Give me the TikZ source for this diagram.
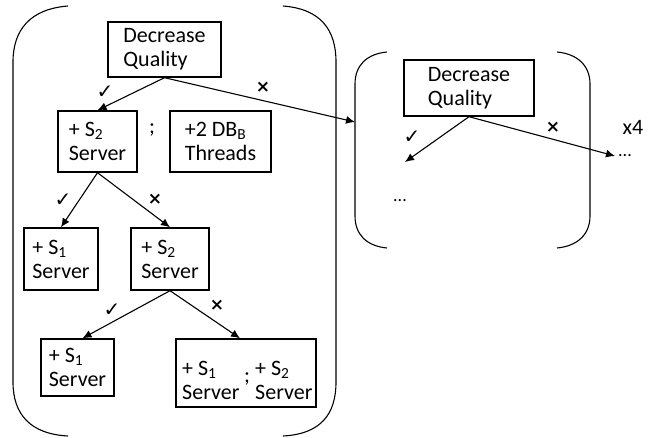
\documentclass[tikz,border=0pt]{standalone}
\usepackage{fontspec}
\setmainfont{Carlito}
\newfontfamily\symfont{DejaVu Sans}
\usetikzlibrary{arrows.meta,calc}
\tikzset{
  box/.style={draw, line width=1.4pt, align=left, inner sep=2pt,
              font=\fontsize{22}{24}\selectfont},
  txt/.style={inner sep=0pt, font=\fontsize{22}{24}\selectfont},
  small/.style={inner sep=0pt, font=\fontsize{18}{20}\selectfont},
  conn/.style={line width=1.1pt, -{Latex[length=9pt,width=8pt]}},
  paren/.style={line width=1.1pt},
  yes/.style={inner sep=0pt, font=\symfont\fontsize{20}{20}\selectfont},
  no/.style={inner sep=0pt, font=\symfont\bfseries\fontsize{17}{17}\selectfont}
}
\newcommand{\sub}[1]{\textsubscript{#1}}
\begin{document}
\begin{tikzpicture}[x=1pt,y=-1pt]
\useasboundingbox (0,0) rectangle (658,438);

% outer bracket pair around the first level of decisions
\draw[paren] (68,6) .. controls (30,9) and (13,30) .. (13,62) -- (13,382)
             .. controls (13,414) and (30,434) .. (68,436);
\draw[paren] (283,6) .. controls (321,9) and (336,30) .. (336,62) -- (336,382)
             .. controls (336,414) and (321,434) .. (283,436);

% bracket pair around the repeated step
\draw[paren] (387,52) .. controls (366,54) and (355,66) .. (355,84) -- (355,216)
             .. controls (355,234) and (366,246) .. (387,248);
\draw[paren] (557,52) .. controls (578,54) and (590,66) .. (590,84) -- (590,216)
             .. controls (590,234) and (578,246) .. (557,248);

% decision boxes
\node[box, minimum width=113pt, minimum height=55pt] (dq1) at (164.5,49.5) {Decrease\\Quality};
\node[box, minimum width=79pt, minimum height=61pt] (s2a) at (97.5,141.5) {+ S\sub{2}\\Server};
\node[txt] (semi1) at (152,130) {;};
\node[box, minimum width=101pt, minimum height=61pt] (db) at (220.5,141.5) {+2 DB\sub{B}\\Threads};
\node[box, minimum width=74pt, minimum height=62pt] (s1a) at (61,259) {+ S\sub{1}\\Server};
\node[box, minimum width=78pt, minimum height=62pt] (s2b) at (170,259) {+ S\sub{2}\\Server};
\node[box, minimum width=73pt, minimum height=57pt] (s1b) at (77.5,367.5) {+ S\sub{1}\\Server};
\node[box, minimum width=140pt, minimum height=68pt] (both) at (246,373) {};
\node[txt, align=left, anchor=west] (bothl) at (182,380) {+ S\sub{1}\\Server};
\node[txt] (semi2) at (247,379) {;};
\node[txt, align=left, anchor=west] (bothr) at (255,380) {+ S\sub{2}\\Server};
\node[box, minimum width=130pt, minimum height=56pt] (dq2) at (469,88) {Decrease\\Quality};

% loose ends inside the second bracket
\coordinate (inR) at (355,122);
\coordinate (yesEnd) at (405,162);
\node[small] (dots1) at (625,156) {...};
\node[small] (dots2) at (400,201) {...};
\node[txt] (x4) at (633,127) {x4};

% connectors
\draw[conn] (dq1.south) -- (s2a.north);
\draw[conn] (dq1.south) -- (inR);
\draw[conn] (s2a.south) -- (s1a.north);
\draw[conn] (s2a.south) -- (s2b.north);
\draw[conn] (s2b.south) -- ($(s1b.north)+(5,0)$);
\draw[conn] (s2b.south) -- ($(both.north)+(-6,0)$);
\draw[conn] (dq2.south) -- (yesEnd);
\draw[conn] (dq2.south) -- ($(dots1.west)+(-3,0)$);

% outcome marks
\node[yes] (c1) at (105,92) {✓};
\node[no]  (n1) at (263,87) {×};
\node[yes] (c2) at (63,200) {✓};
\node[no]  (n2) at (155,199) {×};
\node[yes] (c3) at (112,310) {✓};
\node[no]  (n3) at (217,305) {×};
\node[yes] (c4) at (412,137) {✓};
\node[no]  (n4) at (553,127) {×};
\end{tikzpicture}
\end{document}
